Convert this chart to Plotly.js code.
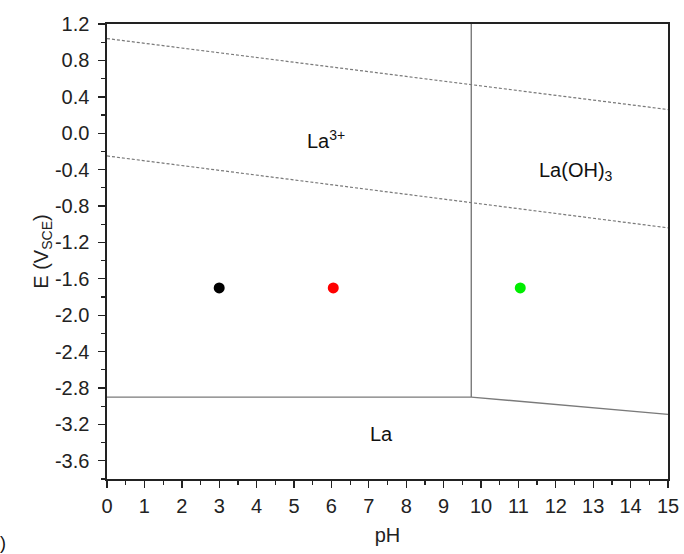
<!DOCTYPE html>
<html>
<head>
<meta charset="utf-8">
<script src="https://cdn.plot.ly/plotly-3.0.1.min.js"></script>
<style>html,body{margin:0;padding:0;background:#fff;}#chart{width:684px;height:554px;}</style>
</head>
<body>
<div id="chart"></div>
<script>
// Boundary lines (pH, E in V vs SCE)
const upperWaterX = [0, 15];
const upperWaterY = [1.04, 0.26];
const lowerWaterX = [0, 15];
const lowerWaterY = [-0.25, -1.04];
const verticalX = [9.74, 9.74];
const verticalY = [1.2, -2.90];
const laLineX = [0, 9.74, 15];
const laLineY = [-2.90, -2.90, -3.09];

// Experimental points
const pointX = [3.0, 6.05, 11.05];
const pointY = [-1.70, -1.70, -1.70];
const pointColors = ['#000000', '#ff0000', '#00ee00'];

// Region labels
const labelText = ['La<sup>3+</sup>', 'La(OH)<sub>3</sub>', 'La'];
const labelX = [5.85, 12.55, 7.35];
const labelY = [-0.07, -0.42, -3.30];

// Tick labels
const yTickVals = [1.2, 0.8, 0.4, 0.0, -0.4, -0.8, -1.2, -1.6, -2.0, -2.4, -2.8, -3.2, -3.6];
const yTickText = ['1.2', '0.8', '0.4', '0.0', '-0.4', '-0.8', '-1.2', '-1.6', '-2.0', '-2.4', '-2.8', '-3.2', '-3.6'];
const xTickVals = [0, 1, 2, 3, 4, 5, 6, 7, 8, 9, 10, 11, 12, 13, 14, 15];
const xTickText = ['0', '1', '2', '3', '4', '5', '6', '7', '8', '9', '10', '11', '12', '13', '14', '15'];

const FAM = 'Liberation Sans, Arial, sans-serif';
const gray = '#7a7a7a';
const traces = [
  {x: upperWaterX, y: upperWaterY, mode: 'lines', line: {color: gray, width: 1.2, dash: '3px,2px'}, hoverinfo: 'skip'},
  {x: lowerWaterX, y: lowerWaterY, mode: 'lines', line: {color: gray, width: 1.2, dash: '3px,2px'}, hoverinfo: 'skip'},
  {x: verticalX, y: verticalY, mode: 'lines', line: {color: gray, width: 1.4}, hoverinfo: 'skip'},
  {x: laLineX, y: laLineY, mode: 'lines', line: {color: gray, width: 1.4}, hoverinfo: 'skip'},
  {x: pointX, y: pointY, mode: 'markers', marker: {color: pointColors, size: 11}, hoverinfo: 'skip'}
];

const annotations = labelText.map((t, i) => ({
  x: labelX[i], y: labelY[i], xref: 'x', yref: 'y', text: t, showarrow: false,
  font: {family: FAM, size: 20, color: '#111'}
}));
annotations.push({x: 0, y: 0, xref: 'paper', yref: 'paper', xanchor: 'left', yanchor: 'middle', text: ')', showarrow: false,
  font: {family: FAM, size: 18, color: '#111'}, xshift: -109, yshift: -64});

const tickFont = {family: FAM, size: 20, color: '#222'};
const layout = {
  width: 684, height: 554,
  margin: {l: 107, r: 16, t: 24, b: 75},
  paper_bgcolor: '#fff', plot_bgcolor: '#fff',
  showlegend: false,
  font: {family: FAM, color: '#222'},
  xaxis: {
    range: [0, 15], tickmode: 'array', tickvals: xTickVals, ticktext: xTickText,
    showgrid: false, zeroline: false,
    showline: true, linecolor: '#222', linewidth: 1.6, mirror: true,
    ticks: 'outside', ticklen: 7, tickwidth: 1.4, tickcolor: '#222',
    minor: {dtick: 0.5, tick0: 0, ticks: 'outside', ticklen: 4, tickwidth: 1.2, tickcolor: '#222', showgrid: false},
    tickfont: tickFont, ticklabelstandoff: 1,
    title: {text: 'pH', font: {family: FAM, size: 20, color: '#222'}, standoff: 12}
  },
  yaxis: {
    range: [-3.8, 1.2], tickmode: 'array', tickvals: yTickVals, ticktext: yTickText,
    showgrid: false, zeroline: false,
    showline: true, linecolor: '#222', linewidth: 1.6, mirror: true,
    ticks: 'outside', ticklen: 7, tickwidth: 1.4, tickcolor: '#222',
    minor: {dtick: 0.2, tick0: 0, ticks: 'outside', ticklen: 4, tickwidth: 1.2, tickcolor: '#222', showgrid: false},
    tickfont: tickFont, ticklabelstandoff: 5,
    title: {text: 'E (V<sub>SCE</sub>)', font: {family: FAM, size: 20, color: '#222'}, standoff: 1}
  },
  annotations: annotations
};

Plotly.newPlot('chart', traces, layout, {displayModeBar: false, staticPlot: true});
</script>
</body>
</html>
